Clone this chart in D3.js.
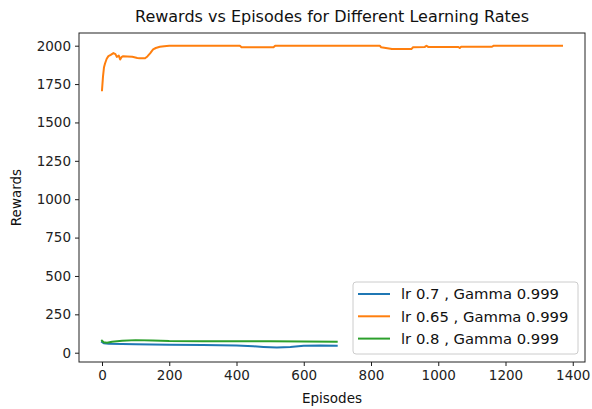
<!DOCTYPE html>
<html><head><meta charset="utf-8">
<script src="https://cdn.jsdelivr.net/npm/d3@7"></script>
<style>body{margin:0;background:#fff}svg{display:block;font-family:"DejaVu Sans",sans-serif}</style>
</head><body><svg id="c" width="592" height="409"></svg>
<script>
const title = "Rewards vs Episodes for Different Learning Rates";
const xLabel = "Episodes", yLabel = "Rewards";
const xTicks = [0,200,400,600,800,1000,1200,1400];
const yTicks = [0,250,500,750,1000,1250,1500,1750,2000];
const seriesNames = ["lr 0.7 , Gamma 0.999","lr 0.65 , Gamma 0.999","lr 0.8 , Gamma 0.999"];
const colors = ["#1f77b4","#ff7f0e","#2ca02c"];
const blueEp  = [0,5,20,100,200,300,400,450,480,520,560,600,650,698];
const blueVal = [70,62,58,55,52,50,47,42,38,34,38,45,47,45];
const orangeEp  = [0,3,6,9,14,19,26,34,40,44,50,54,58,63,75,90,105,113,128,135,143,148,152,160,172,185,200,410,415,510,515,826,830,858,862,920,925,960,965,970,1060,1064,1068,1160,1165,1368];
const orangeVal = [1710,1800,1860,1884,1915,1932,1940,1952,1945,1927,1935,1910,1925,1932,1930,1928,1920,1918,1918,1930,1950,1965,1976,1985,1993,1997,2000,2000,1990,1990,2000,2000,1990,1980,1978,1978,1990,1992,2000,1992,1992,1985,1993,1993,2000,2000];
const greenEp  = [0,5,15,30,60,100,150,200,300,400,500,600,698];
const greenVal = [78,68,65,72,78,82,80,76,75,75,74,73,72];

const series = [
  {name: seriesNames[0], ep: blueEp, val: blueVal, color: colors[0]},
  {name: seriesNames[1], ep: orangeEp, val: orangeVal, color: colors[1]},
  {name: seriesNames[2], ep: greenEp, val: greenVal, color: colors[2]}
];

const svg = d3.select("#c");
const L=79, R=585, T=33, B=362;
const x = d3.scaleLinear().domain([-68.4,1436.4]).range([L,R]);
const y = d3.scaleLinear().domain([-60.5,2082.7]).range([B,T]);

const line = d3.line().x(d=>x(d[0])).y(d=>y(d[1]));
const g = svg.append("g");
g.append("defs").append("clipPath").attr("id","clip").append("rect").attr("x",L).attr("y",T).attr("width",R-L).attr("height",B-T);
series.forEach(s=>{
  g.append("path").attr("clip-path","url(#clip)")
   .attr("d", line(s.ep.map((e,i)=>[e,s.val[i]])))
   .attr("fill","none").attr("stroke",s.color).attr("stroke-width",2).attr("stroke-linejoin","round").attr("stroke-linecap","square");
});

const fs = 13.5;
const xa = svg.append("g").attr("transform",`translate(0,${B})`)
  .call(d3.axisBottom(x).tickValues(xTicks).tickSize(4).tickPadding(4).tickFormat(d3.format("d")));
const ya = svg.append("g").attr("transform",`translate(${L},0)`)
  .call(d3.axisLeft(y).tickValues(yTicks).tickSize(4).tickPadding(4).tickFormat(d3.format("d")));
[xa,ya].forEach(a=>{
  a.select(".domain").remove();
  a.selectAll("line").attr("stroke","#000").attr("stroke-width",0.9);
  a.selectAll("text").attr("font-family","DejaVu Sans").attr("font-size",fs).attr("fill","#222");
});
svg.append("rect").attr("x",L).attr("y",T).attr("width",R-L).attr("height",B-T)
  .attr("fill","none").attr("stroke","#222").attr("stroke-width",1);

svg.append("text").attr("x",(L+R)/2).attr("y",22).attr("text-anchor","middle")
  .attr("font-size",16).attr("fill","#111").text(title);
svg.append("text").attr("x",(L+R)/2).attr("y",403).attr("text-anchor","middle")
  .attr("font-size",fs).attr("fill","#111").text(xLabel);
svg.append("text").attr("transform",`translate(21,${(T+B)/2}) rotate(-90)`).attr("text-anchor","middle")
  .attr("font-size",fs).attr("fill","#111").text(yLabel);

const lg = svg.append("g");
lg.append("rect").attr("x",353).attr("y",282).attr("width",225).attr("height",72).attr("rx",3)
  .attr("fill","#fff").attr("fill-opacity",0.8).attr("stroke","#ccc").attr("stroke-width",1);
series.forEach((s,i)=>{
  const yy = 294 + i*22.3;
  lg.append("line").attr("x1",358).attr("x2",390).attr("y1",yy).attr("y2",yy).attr("stroke",s.color).attr("stroke-width",2);
  lg.append("text").attr("x",401).attr("y",yy).attr("dy","0.36em").attr("font-size",14.8).attr("fill","#111").text(s.name);
});
</script></body></html>
